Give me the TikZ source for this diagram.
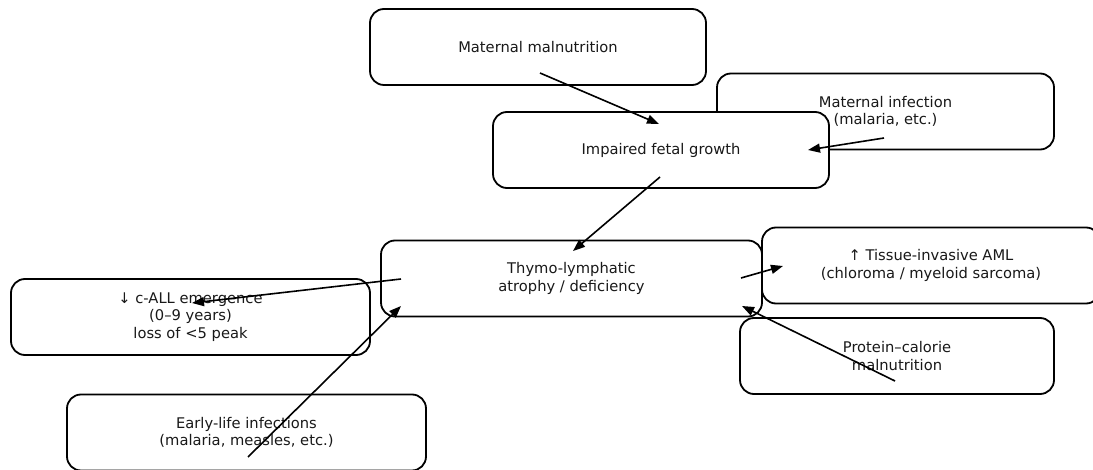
\documentclass[tikz,border=0pt]{standalone}
\usepackage{fontspec}
\setmainfont{DejaVu Sans}
\usetikzlibrary{arrows.meta}
\begin{document}
\begin{tikzpicture}[x=1pt,y=-1pt,
  box/.style={draw=black, line width=1.8pt, rounded corners=14pt, fill=white,
    minimum height=76pt, align=center, inner sep=0pt,
    font=\fontsize{14.7}{17.4}\selectfont, text=black!90},
  arr/.style={-{Triangle[length=12pt,width=9pt]}, line width=1.6pt, black}]
\useasboundingbox (0,0) rectangle (1093,470);
\clip (0,0) rectangle (1093,470);
\node[box, minimum width=336pt] (mm) at (538,47) {Maternal malnutrition};
\node[box, minimum width=337pt] (mi) at (885.5,111.5) {Maternal infection\\(malaria, etc.)};
\node[box, minimum width=336pt] (ifg) at (661,150) {Impaired fetal growth};
\node[box, minimum width=381pt] (thy) at (571.5,278.5) {Thymo-lymphatic\\atrophy / deficiency};
\node[box, minimum width=338pt] (aml) at (931,265.5) {↑ Tissue-invasive AML\\(chloroma / myeloid sarcoma)};
\node[box, minimum width=359pt] (call) at (190.5,317) {↓ c-ALL emergence\\(0–9 years)\\loss of <5 peak};
\node[box, minimum width=314pt] (pcm) at (897,356) {Protein–calorie\\malnutrition};
\node[box, minimum width=359pt] (eli) at (246.5,432.5) {Early-life infections\\(malaria, measles, etc.)};
% connector end points
\coordinate (mmS) at (540,73);   \coordinate (ifgT) at (659,124);
\coordinate (miS) at (884,138);  \coordinate (ifgR) at (808,150);
\coordinate (ifgS) at (660,177); \coordinate (thyT) at (573,251);
\coordinate (thyL) at (401,279); \coordinate (callE) at (192,303);
\coordinate (thyR) at (741,278); \coordinate (amlL) at (783,266);
\coordinate (pcmS) at (895,381); \coordinate (thyBR) at (742,306);
\coordinate (eliS) at (248,457); \coordinate (thyBL) at (401,306);
\draw[arr] (mmS) -- (ifgT);
\draw[arr] (miS) -- (ifgR);
\draw[arr] (ifgS) -- (thyT);
\draw[arr] (thyL) -- (callE);
\draw[arr] (thyR) -- (amlL);
\draw[arr] (pcmS) -- (thyBR);
\draw[arr] (eliS) -- (thyBL);
\end{tikzpicture}
\end{document}
